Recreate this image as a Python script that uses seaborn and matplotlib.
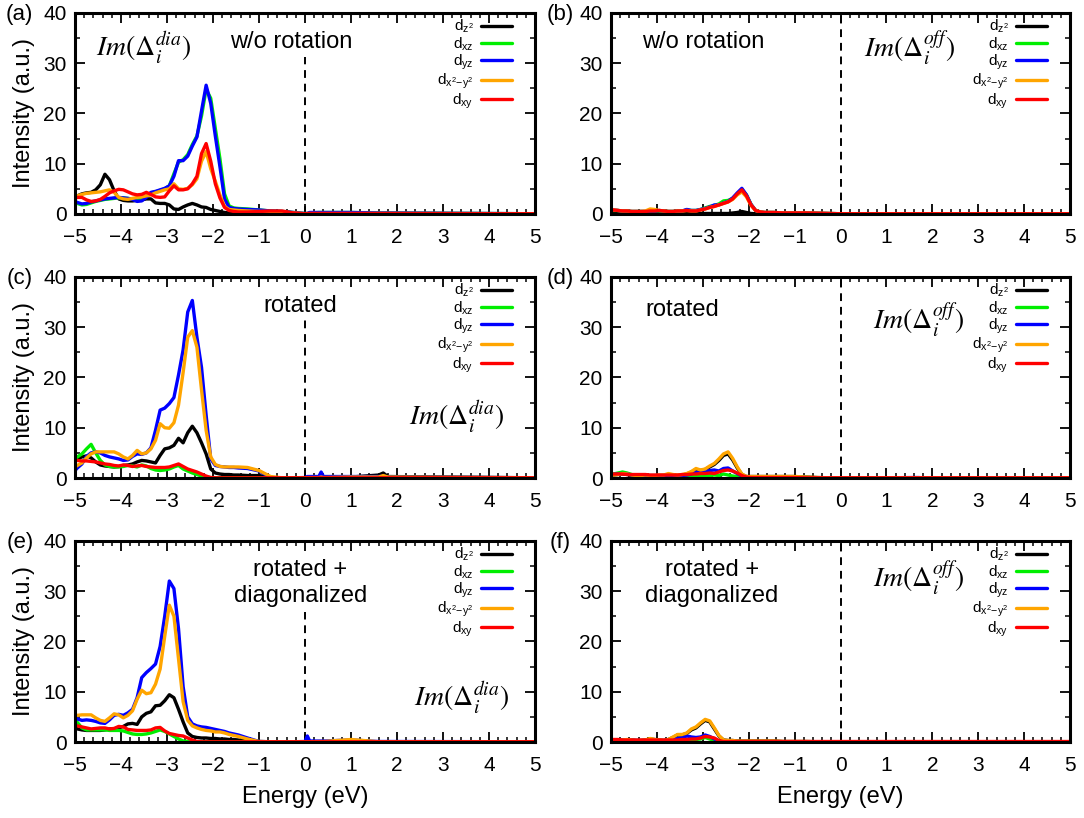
import matplotlib
matplotlib.use("Agg")
import matplotlib.pyplot as plt
import seaborn as sns
from matplotlib.ticker import MultipleLocator

# Energy grid (eV)
energy = [-5.0, -4.95, -4.85, -4.75, -4.65, -4.55, -4.45, -4.35, -4.25, -4.15,
          -4.05, -3.95, -3.85, -3.75, -3.65, -3.55, -3.45, -3.35, -3.25, -3.15,
          -3.05, -2.95, -2.85, -2.75, -2.65, -2.55, -2.45, -2.35, -2.25, -2.15,
          -2.05, -1.95, -1.85, -1.75, -1.65, -1.55, -1.45,
          -1.25, -1.0, -0.75, -0.5, -0.25, 0.0, 0.05, 0.1, 0.3, 0.35, 0.4,
          1.0, 1.6, 1.7, 1.8, 5.0]

orbital_labels = [r"$d_{z^2}$", r"$d_{xz}$", r"$d_{yz}$", r"$d_{x^2\!-\!y^2}$", r"$d_{xy}$"]
orbital_colors = ["#000000", "#00ee00", "#0000ff", "#ffa500", "#ff0000"]

# (a) diagonal, w/o rotation
a_dz2 = [3.4, 3.6, 4.0, 4.2, 4.3, 4.8, 5.8, 7.9, 6.8, 4.6, 3.0, 2.7, 2.6, 2.6, 2.7, 2.8, 3.0, 3.0, 2.2, 2.1,
         2.1, 1.8, 1.0, 0.9, 1.4, 1.8, 2.1, 1.8, 1.4, 1.3, 0.9, 0.7, 0.5, 0.3, 0.2, 0.1, 0.1,
         0.05, 0.05, 0.05, 0.05, 0.05, 0.05, 0.05, 0.05, 0.05, 0.05, 0.05, 0.05, 0.05, 0.05, 0.05, 0.05]
a_dxz = [2.3, 2.1, 1.8, 1.9, 2.2, 2.5, 2.7, 2.9, 3.0, 3.1, 3.2, 3.2, 3.1, 3.0, 3.0, 3.1, 3.5, 4.2, 4.4, 4.7,
         5.0, 5.6, 8.0, 10.3, 10.8, 11.8, 13.8, 15.5, 19.5, 24.8, 23.0, 17.0, 11.0, 4.0, 1.6, 1.2, 1.1,
         1.0, 0.8, 0.6, 0.5, 0.3, 0.1, 0.1, 0.2, 0.3, 0.3, 0.3, 0.3, 0.2, 0.2, 0.2, 0.05]
a_dyz = [2.5, 2.3, 2.0, 2.1, 2.4, 2.6, 2.8, 3.0, 3.1, 3.2, 3.3, 3.2, 3.1, 2.9, 2.5, 2.6, 3.3, 4.3, 4.5, 4.8,
         5.1, 5.6, 7.5, 10.6, 10.6, 11.5, 13.5, 15.3, 20.5, 25.6, 22.0, 15.5, 9.4, 3.0, 1.3, 1.1, 1.0,
         0.9, 0.8, 0.6, 0.5, 0.3, 0.1, 0.1, 0.3, 0.3, 0.3, 0.3, 0.3, 0.2, 0.2, 0.2, 0.05]
a_dx2y2 = [3.4, 3.6, 3.9, 4.1, 4.2, 4.3, 4.4, 4.6, 4.8, 4.3, 3.3, 3.0, 2.9, 3.1, 3.3, 3.4, 3.6, 3.8, 4.2, 4.5,
           4.8, 5.0, 6.0, 5.0, 4.9, 5.1, 5.8, 7.0, 10.5, 12.4, 9.0, 6.5, 3.8, 1.5, 0.9, 0.8, 0.7,
           0.6, 0.5, 0.5, 0.4, 0.2, 0.05, 0.05, 0.1, 0.1, 0.1, 0.1, 0.1, 0.1, 0.1, 0.1, 0.05]
a_dxy = [3.1, 3.3, 3.3, 2.8, 2.5, 2.6, 2.9, 3.5, 4.2, 4.6, 4.9, 4.8, 4.4, 4.0, 3.8, 3.9, 4.3, 3.9, 3.4, 3.3,
         3.4, 4.6, 5.6, 4.8, 4.8, 5.0, 6.0, 7.5, 12.0, 14.0, 10.5, 6.0, 3.2, 1.3, 0.7, 0.5, 0.4,
         0.4, 0.5, 0.6, 0.6, 0.2, 0.05, 0.1, 0.1, 0.1, 0.1, 0.1, 0.1, 0.1, 0.1, 0.1, 0.05]

# (b) off-diagonal, w/o rotation
b_dz2 = [0.1, 0.1, 0.1, 0.1, 0.1, 0.1, 0.1, 0.1, 0.1, 0.1, 0.1, 0.1, 0.1, 0.1, 0.1, 0.1, 0.1, 0.1, 0.1, 0.1,
         0.1, 0.1, 0.1, 0.1, 0.1, 0.1, 0.1, 0.2, 0.3, 0.5, 0.3, 0.1, 0.05, 0.05, 0.05, 0.05, 0.05,
         0.05, 0.05, 0.05, 0.05, 0.05, 0.05, 0.05, 0.05, 0.05, 0.05, 0.05, 0.05, 0.05, 0.05, 0.05, 0.05]
b_dxz = [0.7, 0.7, 0.7, 0.6, 0.6, 0.5, 0.5, 0.5, 0.5, 0.6, 0.6, 0.6, 0.6, 0.5, 0.5, 0.6, 0.6, 0.8, 0.7, 0.7,
         0.9, 1.2, 1.5, 1.7, 2.0, 2.6, 2.7, 3.1, 4.0, 4.9, 3.8, 1.9, 0.7, 0.4, 0.3, 0.3, 0.3,
         0.2, 0.2, 0.2, 0.15, 0.1, 0.05, 0.05, 0.05, 0.05, 0.05, 0.05, 0.05, 0.05, 0.05, 0.05, 0.05]
b_dyz = [0.8, 0.8, 0.7, 0.6, 0.6, 0.5, 0.5, 0.5, 0.5, 0.6, 0.6, 0.7, 0.6, 0.5, 0.5, 0.6, 0.6, 0.9, 0.7, 0.7,
         0.9, 1.1, 1.4, 1.8, 1.8, 2.2, 2.5, 3.2, 4.2, 5.1, 3.8, 1.9, 0.7, 0.4, 0.3, 0.3, 0.3,
         0.2, 0.2, 0.2, 0.15, 0.1, 0.05, 0.05, 0.05, 0.05, 0.05, 0.05, 0.05, 0.05, 0.05, 0.05, 0.05]
b_dx2y2 = [0.8, 0.8, 0.7, 0.6, 0.6, 0.5, 0.5, 0.5, 0.6, 1.0, 0.9, 0.7, 0.6, 0.5, 0.5, 0.6, 0.6, 0.7, 0.6, 0.6,
           0.8, 1.0, 1.3, 1.5, 1.8, 2.1, 2.4, 2.9, 3.8, 4.4, 3.4, 1.7, 0.7, 0.4, 0.3, 0.3, 0.3,
           0.2, 0.2, 0.2, 0.15, 0.1, 0.05, 0.05, 0.05, 0.05, 0.05, 0.05, 0.05, 0.05, 0.05, 0.05, 0.05]
b_dxy = [0.8, 0.8, 0.7, 0.6, 0.6, 0.5, 0.5, 0.5, 0.5, 0.6, 0.6, 0.7, 0.6, 0.5, 0.5, 0.6, 0.6, 0.7, 0.6, 0.6,
         0.8, 1.0, 1.3, 1.5, 1.8, 2.1, 2.4, 3.0, 4.0, 4.8, 3.6, 1.8, 0.7, 0.4, 0.3, 0.3, 0.3,
         0.2, 0.2, 0.2, 0.15, 0.1, 0.05, 0.05, 0.05, 0.05, 0.05, 0.05, 0.05, 0.05, 0.05, 0.05, 0.05]

# (c) diagonal, rotated
c_dz2 = [3.5, 3.8, 4.2, 4.4, 4.0, 3.2, 2.6, 2.4, 2.3, 2.2, 2.3, 2.5, 2.6, 2.8, 3.2, 3.5, 3.4, 3.2, 3.0, 4.5,
         5.8, 6.0, 6.5, 7.9, 7.0, 9.0, 10.3, 9.0, 7.0, 4.8, 1.8, 1.0, 0.8, 0.7, 0.7, 0.6, 0.6,
         0.5, 0.5, 0.1, 0.05, 0.05, 0.05, 0.05, 0.05, 0.1, 0.1, 0.1, 0.2, 0.6, 1.0, 0.3, 0.05]
c_dxz = [3.8, 4.2, 4.8, 5.8, 6.7, 5.0, 3.5, 2.6, 2.3, 2.2, 2.2, 2.3, 2.5, 2.4, 2.2, 2.6, 2.4, 1.9, 1.6, 1.5,
         1.6, 1.8, 2.2, 2.5, 1.8, 1.4, 1.0, 0.7, 0.4, 0.2, 0.1, 0.05, 0.05, 0.05, 0.05, 0.05, 0.05,
         0.05, 0.05, 0.05, 0.05, 0.05, 0.05, 0.05, 0.05, 0.05, 0.05, 0.05, 0.05, 0.05, 0.05, 0.05, 0.05]
c_dyz = [1.5, 2.0, 2.8, 4.3, 5.0, 5.2, 5.0, 4.5, 4.2, 4.0, 3.8, 3.5, 3.6, 4.3, 4.8, 4.7, 5.0, 6.0, 9.5, 13.5,
         13.9, 14.8, 16.0, 20.5, 25.5, 33.0, 35.3, 28.0, 22.0, 12.5, 3.8, 2.5, 2.3, 2.2, 2.1, 2.1, 2.0,
         1.9, 1.4, 0.1, 0.05, 0.05, 0.1, 0.3, 0.3, 0.3, 1.2, 0.3, 0.3, 0.3, 0.4, 0.2, 0.05]
c_dx2y2 = [2.2, 2.5, 3.0, 4.0, 4.8, 5.2, 5.2, 5.2, 5.2, 5.2, 4.8, 4.2, 3.8, 4.5, 5.5, 4.8, 5.0, 5.8, 7.5, 10.8,
           10.0, 9.9, 11.0, 14.5, 21.0, 28.0, 29.3, 26.0, 17.5, 9.5, 4.2, 2.7, 2.3, 2.2, 2.2, 2.2, 2.2,
           2.1, 1.5, 0.3, 0.05, 0.05, 0.05, 0.1, 0.1, 0.1, 0.2, 0.1, 0.2, 0.2, 0.5, 0.2, 0.05]
c_dxy = [3.5, 3.5, 3.4, 3.4, 3.3, 3.2, 3.0, 2.8, 2.7, 2.5, 2.4, 2.6, 2.5, 2.3, 2.4, 2.5, 2.3, 2.2, 2.1, 2.1,
         2.1, 2.2, 2.5, 2.8, 2.3, 1.8, 1.5, 1.2, 0.8, 0.4, 0.1, 0.05, 0.05, 0.05, 0.05, 0.05, 0.05,
         0.05, 0.05, 0.05, 0.05, 0.05, 0.05, 0.05, 0.05, 0.05, 0.05, 0.05, 0.05, 0.05, 0.05, 0.05, 0.05]

# (d) off-diagonal, rotated
d_dz2 = [0.5, 0.6, 0.7, 0.8, 0.7, 0.5, 0.4, 0.4, 0.5, 0.4, 0.4, 0.5, 0.5, 0.7, 0.6, 0.5, 0.6, 0.8, 1.2, 1.7,
         1.5, 1.7, 2.2, 2.7, 3.5, 4.5, 4.8, 3.6, 2.0, 0.7, 0.3, 0.3, 0.3, 0.3, 0.3, 0.3, 0.3,
         0.3, 0.3, 0.2, 0.1, 0.05, 0.05, 0.05, 0.05, 0.05, 0.05, 0.05, 0.05, 0.05, 0.05, 0.05, 0.05]
d_dxz = [0.6, 0.8, 1.0, 1.2, 1.0, 0.7, 0.5, 0.4, 0.4, 0.4, 0.4, 0.4, 0.4, 0.4, 0.4, 0.4, 0.4, 0.4, 0.4, 0.4,
         0.5, 0.5, 0.5, 0.6, 0.5, 0.8, 0.6, 0.4, 0.3, 0.2, 0.2, 0.2, 0.2, 0.2, 0.2, 0.2, 0.2,
         0.2, 0.2, 0.1, 0.05, 0.05, 0.05, 0.05, 0.05, 0.05, 0.05, 0.05, 0.05, 0.05, 0.05, 0.05, 0.05]
d_dyz = [0.6, 0.7, 0.8, 0.9, 0.8, 0.6, 0.5, 0.5, 0.5, 0.5, 0.5, 0.5, 0.5, 0.6, 0.5, 0.5, 0.5, 0.6, 0.8, 1.2,
         1.1, 1.3, 1.5, 1.6, 1.4, 1.9, 2.0, 1.4, 0.9, 0.4, 0.2, 0.2, 0.2, 0.2, 0.2, 0.2, 0.2,
         0.2, 0.2, 0.1, 0.05, 0.05, 0.05, 0.05, 0.05, 0.05, 0.05, 0.05, 0.05, 0.1, 0.1, 0.05, 0.05]
d_dx2y2 = [0.5, 0.6, 0.7, 0.9, 0.8, 0.6, 0.5, 0.5, 0.6, 0.5, 0.5, 0.6, 0.6, 0.9, 0.7, 0.6, 0.7, 0.9, 1.3, 1.9,
           1.6, 1.8, 2.4, 2.9, 3.8, 4.8, 5.2, 3.9, 2.2, 0.8, 0.3, 0.3, 0.3, 0.3, 0.3, 0.3, 0.3,
           0.3, 0.3, 0.2, 0.1, 0.05, 0.05, 0.05, 0.05, 0.05, 0.05, 0.05, 0.05, 0.05, 0.05, 0.05, 0.05]
d_dxy = [0.8, 0.8, 0.8, 0.8, 0.7, 0.7, 0.7, 0.7, 0.7, 0.6, 0.6, 0.6, 0.6, 0.6, 0.6, 0.6, 0.7, 0.7, 0.8, 0.8,
         0.9, 0.9, 1.0, 0.9, 1.2, 1.5, 1.6, 1.4, 1.0, 0.5, 0.2, 0.1, 0.1, 0.1, 0.1, 0.1, 0.1,
         0.1, 0.1, 0.05, 0.05, 0.05, 0.05, 0.05, 0.05, 0.05, 0.05, 0.05, 0.05, 0.05, 0.05, 0.05, 0.05]

# (e) diagonal, rotated + diagonalized
e_dz2 = [3.1, 2.6, 2.4, 2.3, 2.3, 2.3, 2.3, 2.4, 2.6, 2.6, 2.8, 3.1, 3.6, 3.7, 3.5, 5.0, 5.7, 6.0, 7.2, 7.3,
         8.2, 9.4, 8.8, 6.5, 4.0, 1.8, 1.1, 0.9, 0.8, 0.8, 0.7, 0.7, 0.6, 0.6, 0.5, 0.5, 0.4,
         0.3, 0.1, 0.05, 0.05, 0.05, 0.05, 0.05, 0.05, 0.05, 0.05, 0.05, 0.05, 0.05, 0.05, 0.05, 0.05]
e_dxz = [4.6, 3.9, 2.8, 2.4, 2.4, 2.4, 2.4, 2.4, 2.3, 2.3, 2.3, 2.2, 1.9, 1.6, 1.5, 1.5, 1.6, 1.8, 2.1, 2.4,
         2.1, 1.6, 1.1, 0.6, 0.2, 0.1, 0.05, 0.05, 0.05, 0.05, 0.05, 0.05, 0.05, 0.05, 0.05, 0.05, 0.05,
         0.05, 0.05, 0.05, 0.05, 0.05, 0.05, 0.05, 0.05, 0.05, 0.05, 0.05, 0.05, 0.05, 0.05, 0.05, 0.05]
e_dyz = [4.9, 4.6, 4.3, 4.4, 4.3, 4.1, 3.8, 3.7, 4.4, 5.3, 5.5, 5.3, 5.8, 6.5, 8.8, 12.8, 13.8, 14.6, 15.5, 19.0,
         25.0, 32.0, 30.5, 22.5, 11.0, 5.0, 3.6, 3.2, 3.0, 2.9, 2.7, 2.5, 2.3, 2.1, 1.8, 1.6, 1.4,
         0.8, 0.1, 0.05, 0.05, 0.05, 0.1, 1.2, 0.2, 0.2, 0.2, 0.2, 0.4, 0.1, 0.1, 0.1, 0.05]
e_dx2y2 = [5.2, 5.3, 5.4, 5.4, 5.4, 4.8, 4.3, 4.1, 4.8, 5.6, 5.4, 4.8, 5.3, 6.2, 8.5, 10.3, 9.6, 9.8, 11.5, 14.5,
           21.0, 27.2, 25.0, 16.5, 8.0, 4.3, 3.2, 2.8, 2.5, 2.3, 2.2, 2.0, 2.0, 1.8, 1.5, 1.3, 1.1,
           0.6, 0.1, 0.05, 0.05, 0.05, 0.05, 0.05, 0.05, 0.1, 0.1, 0.1, 0.5, 0.05, 0.05, 0.05, 0.05]
e_dxy = [3.3, 3.2, 3.0, 2.8, 2.6, 2.7, 2.8, 2.8, 2.6, 2.7, 3.1, 3.0, 2.5, 2.4, 2.3, 2.3, 2.3, 2.4, 2.8, 2.9,
         2.2, 1.7, 1.5, 1.3, 1.2, 0.8, 0.4, 0.1, 0.05, 0.05, 0.05, 0.05, 0.05, 0.05, 0.05, 0.05, 0.05,
         0.05, 0.05, 0.05, 0.05, 0.05, 0.05, 0.05, 0.05, 0.05, 0.05, 0.05, 0.05, 0.05, 0.05, 0.05, 0.05]

# (f) off-diagonal, rotated + diagonalized
f_dz2 = [0.3, 0.3, 0.3, 0.4, 0.4, 0.4, 0.3, 0.3, 0.4, 0.6, 0.5, 0.4, 0.3, 0.5, 0.9, 1.4, 1.4, 1.7, 2.4, 2.8,
         3.6, 4.3, 4.0, 2.6, 1.2, 0.4, 0.3, 0.3, 0.2, 0.2, 0.2, 0.2, 0.2, 0.2, 0.2, 0.2, 0.2,
         0.1, 0.1, 0.1, 0.05, 0.05, 0.05, 0.05, 0.05, 0.05, 0.05, 0.05, 0.05, 0.05, 0.05, 0.05, 0.05]
f_dxz = [0.3, 0.3, 0.3, 0.3, 0.3, 0.3, 0.2, 0.2, 0.2, 0.2, 0.2, 0.2, 0.2, 0.2, 0.3, 0.3, 0.3, 0.4, 0.4, 0.5,
         0.6, 0.9, 0.6, 0.3, 0.1, 0.1, 0.1, 0.1, 0.05, 0.05, 0.05, 0.05, 0.05, 0.05, 0.05, 0.05, 0.05,
         0.05, 0.05, 0.05, 0.05, 0.05, 0.05, 0.05, 0.05, 0.05, 0.05, 0.05, 0.05, 0.05, 0.05, 0.05, 0.05]
f_dyz = [0.4, 0.4, 0.4, 0.4, 0.4, 0.4, 0.3, 0.3, 0.3, 0.3, 0.3, 0.3, 0.3, 0.4, 0.5, 0.7, 0.8, 1.2, 1.0, 0.9,
         1.0, 1.4, 1.1, 0.6, 0.2, 0.1, 0.1, 0.1, 0.1, 0.1, 0.1, 0.1, 0.1, 0.1, 0.1, 0.1, 0.1,
         0.05, 0.05, 0.05, 0.05, 0.05, 0.05, 0.05, 0.05, 0.05, 0.05, 0.05, 0.05, 0.05, 0.05, 0.05, 0.05]
f_dx2y2 = [0.3, 0.3, 0.3, 0.4, 0.5, 0.4, 0.3, 0.3, 0.4, 0.7, 0.5, 0.4, 0.3, 0.5, 1.0, 1.5, 1.5, 1.8, 2.6, 3.0,
           3.8, 4.5, 4.2, 2.8, 1.3, 0.4, 0.3, 0.3, 0.2, 0.2, 0.2, 0.2, 0.2, 0.2, 0.2, 0.2, 0.2,
           0.1, 0.1, 0.1, 0.05, 0.05, 0.05, 0.05, 0.05, 0.05, 0.05, 0.05, 0.05, 0.05, 0.05, 0.05, 0.05]
f_dxy = [0.5, 0.5, 0.5, 0.4, 0.4, 0.4, 0.4, 0.4, 0.4, 0.4, 0.4, 0.4, 0.4, 0.4, 0.4, 0.4, 0.5, 0.5, 0.6, 0.6,
         0.8, 1.1, 1.0, 0.8, 0.3, 0.1, 0.1, 0.1, 0.1, 0.1, 0.1, 0.1, 0.1, 0.1, 0.1, 0.1, 0.1,
         0.1, 0.1, 0.1, 0.1, 0.1, 0.1, 0.1, 0.1, 0.1, 0.1, 0.1, 0.1, 0.1, 0.1, 0.1, 0.1]

# Style
sns.set_theme(style="ticks")
plt.rcParams["font.family"] = ["Liberation Sans", "DejaVu Sans"]
plt.rcParams["mathtext.fontset"] = "custom"
plt.rcParams["mathtext.rm"] = "Liberation Sans"
plt.rcParams["mathtext.it"] = "Liberation Sans:italic"
plt.rcParams["mathtext.default"] = "rm"
for key in ["text.color", "axes.labelcolor", "xtick.color", "ytick.color", "axes.edgecolor"]:
    plt.rcParams[key] = "black"

fig = plt.figure(figsize=(10.84, 8.18), dpi=100)

col_x = [0.0692, 0.5637]
col_w = [0.4244, 0.4234]
row_y = [0.7384, 0.4156, 0.0929]
row_h = 0.246

panels = [
    ("(a)", 0, 0, [a_dz2, a_dxz, a_dyz, a_dx2y2, a_dxy], "dia"),
    ("(b)", 0, 1, [b_dz2, b_dxz, b_dyz, b_dx2y2, b_dxy], "off"),
    ("(c)", 1, 0, [c_dz2, c_dxz, c_dyz, c_dx2y2, c_dxy], "dia"),
    ("(d)", 1, 1, [d_dz2, d_dxz, d_dyz, d_dx2y2, d_dxy], "off"),
    ("(e)", 2, 0, [e_dz2, e_dxz, e_dyz, e_dx2y2, e_dxy], "dia"),
    ("(f)", 2, 1, [f_dz2, f_dxz, f_dyz, f_dx2y2, f_dxy], "off"),
]

# text placement per panel
case_text = {
    "(a)": ("w/o rotation", -0.3, 34.2),
    "(b)": ("w/o rotation", -3.0, 34.2),
    "(c)": ("rotated", -0.1, 34.2),
    "(d)": ("rotated", -3.45, 33.5),
    "(e)": ("rotated +\ndiagonalized", -0.1, 31.6),
    "(f)": ("rotated +\ndiagonalized", -2.8, 31.6),
}
im_pos = {"(a)": (-3.5, 33.0), "(b)": (1.5, 33.0), "(c)": (3.3, 12.3),
          "(d)": (1.7, 31.3), "(e)": (3.4, 8.8), "(f)": (1.7, 32.6)}
dash_top = {"(a)": 31.2, "(b)": 40, "(c)": 31.4, "(d)": 40, "(e)": 25.9, "(f)": 40}

for tag, row, col, series, kind in panels:
    ax = fig.add_axes([col_x[col], row_y[row], col_w[col], row_h])
    for vals, lab, colr in zip(series, orbital_labels, orbital_colors):
        sns.lineplot(x=energy, y=vals, ax=ax, color=colr, lw=2.4, label=lab,
                     errorbar=None, sort=False)

    ax.axvline(0, ymin=0, ymax=dash_top[tag] / 40, color="black", lw=1.4,
               ls=(0, (4, 3)), zorder=0)

    ax.set_xlim(-5, 5)
    ax.set_ylim(0, 40)
    ax.xaxis.set_major_locator(MultipleLocator(1))
    ax.xaxis.set_minor_locator(MultipleLocator(0.2))
    ax.yaxis.set_major_locator(MultipleLocator(10))
    ax.yaxis.set_minor_locator(MultipleLocator(5))
    ax.tick_params(which="both", direction="in", top=True, right=True, labelsize=15)
    ax.tick_params(axis="x", which="major", pad=10)
    ax.tick_params(axis="y", which="major", pad=6)
    ax.tick_params(which="major", length=7, width=1.3)
    ax.tick_params(which="minor", length=3.5, width=1.1)
    for sp in ax.spines.values():
        sp.set_linewidth(2.2)
        sp.set_color("black")

    ax.set_xlabel("")
    ax.set_ylabel("")
    if col == 0:
        ax.set_ylabel("Intensity (a.u.)", fontsize=17, labelpad=6)
    if row == 2:
        ax.set_xlabel("Energy (eV)", fontsize=17, labelpad=8)

    ax.legend(loc="upper right", bbox_to_anchor=(0.963, 1.005), frameon=False,
              markerfirst=False, fontsize=11, handlelength=2.0,
              handletextpad=0.5, labelspacing=0.0, borderaxespad=0.0)

    txt, tx, ty = case_text[tag]
    ax.text(tx, ty, txt, ha="center", va="center", fontsize=17, linespacing=1.25)

    ix, iy = im_pos[tag]
    ax.text(ix, iy, r"$\mathit{Im}(\Delta_{\mathit{i}}^{\mathit{%s}})$" % kind,
            ha="center", va="center", fontsize=20, math_fontfamily="stix")

    lx = -0.12 if col == 0 else -0.111
    ax.text(lx, 0.99, tag, transform=ax.transAxes, ha="center", va="center", fontsize=16)

fig.savefig("out.png", dpi=100)
